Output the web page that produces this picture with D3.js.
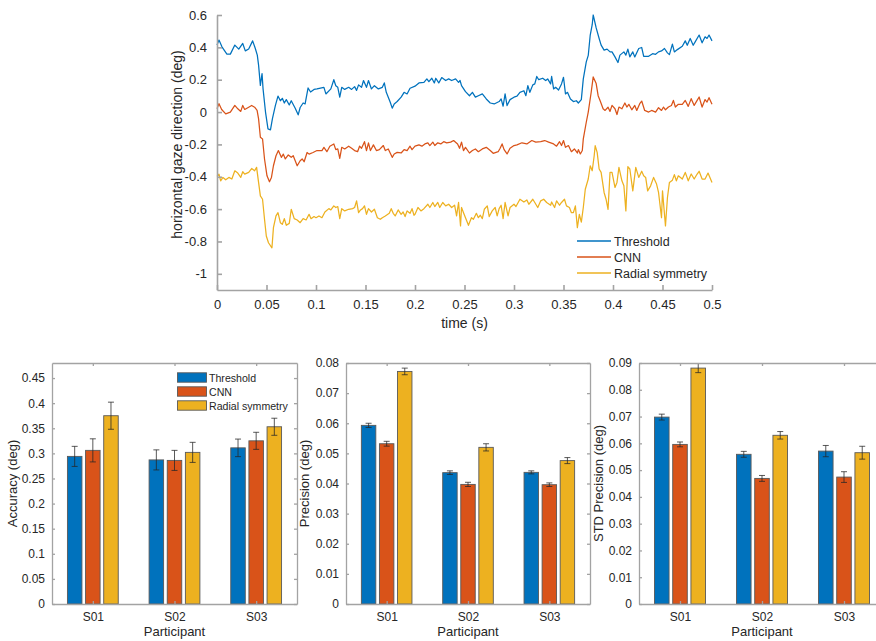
<!DOCTYPE html>
<html><head><meta charset="utf-8">
<script src="https://cdn.jsdelivr.net/npm/d3@7"></script>
<style>
html,body{margin:0;padding:0;background:#fff;}
svg{display:block;font-family:"Liberation Sans",Arial,Helvetica,sans-serif;}
</style></head>
<body>
<svg id="chart" width="876" height="641"></svg>
<script>
// ---------------- DATA ----------------
const seriesNames = ["Threshold", "CNN", "Radial symmetry"];
const seriesColors = ["#0072BD", "#D95319", "#EDB120"];

// time series: [time (s), horizontal gaze direction (deg)]
const threshold = [[0,0.414],[0.002,0.445],[0.005,0.403],[0.010,0.358],[0.0135,0.358],[0.018,0.414],[0.022,0.389],[0.026,0.424],[0.0286,0.378],[0.032,0.39],[0.036,0.44],[0.0387,0.393],[0.0407,0.352],[0.042,0.29],[0.0438,0.165],[0.0455,0.238],[0.0465,0.145],[0.049,0.0],[0.0515,-0.104],[0.054,-0.11],[0.056,-0.04],[0.059,0.041],[0.0616,0.099],[0.064,0.07],[0.066,0.085],[0.068,0.056],[0.070,0.077],[0.073,0.044],[0.075,0.07],[0.079,0.024],[0.082,-0.017],[0.084,0.028],[0.087,0.056],[0.089,0.05],[0.092,0.149],[0.0945,0.124],[0.098,0.14],[0.101,0.143],[0.108,0.153],[0.110,0.112],[0.115,0.143],[0.118,0.2],[0.120,0.163],[0.122,0.153],[0.124,0.093],[0.126,0.153],[0.129,0.14],[0.133,0.153],[0.136,0.14],[0.139,0.157],[0.141,0.134],[0.143,0.168],[0.146,0.153],[0.148,0.195],[0.151,0.153],[0.153,0.195],[0.156,0.143],[0.159,0.163],[0.163,0.143],[0.167,0.153],[0.169,0.18],[0.171,0.122],[0.175,0.061],[0.177,0.024],[0.179,0.05],[0.182,0.065],[0.186,0.092],[0.189,0.122],[0.192,0.112],[0.195,0.147],[0.2,0.16],[0.204,0.18],[0.209,0.184],[0.212,0.205],[0.214,0.188],[0.217,0.209],[0.2195,0.18],[0.221,0.209],[0.224,0.18],[0.227,0.213],[0.231,0.195],[0.234,0.205],[0.237,0.195],[0.241,0.205],[0.244,0.184],[0.2455,0.195],[0.247,0.163],[0.251,0.126],[0.255,0.101],[0.258,0.122],[0.261,0.092],[0.264,0.101],[0.268,0.112],[0.272,0.081],[0.276,0.056],[0.280,0.05],[0.285,0.065],[0.287,0.081],[0.289,0.036],[0.291,0.112],[0.293,0.04],[0.296,0.077],[0.3,0.092],[0.303,0.098],[0.306,0.122],[0.310,0.132],[0.312,0.101],[0.314,0.163],[0.316,0.122],[0.319,0.168],[0.321,0.174],[0.323,0.22],[0.325,0.2],[0.329,0.209],[0.332,0.195],[0.334,0.205],[0.337,0.174],[0.338,0.22],[0.34,0.143],[0.342,0.153],[0.345,0.136],[0.348,0.174],[0.35,0.215],[0.352,0.112],[0.354,0.122],[0.357,0.081],[0.360,0.065],[0.363,0.07],[0.365,0.056],[0.368,0.077],[0.370,0.205],[0.373,0.31],[0.375,0.35],[0.377,0.476],[0.379,0.54],[0.380,0.6],[0.383,0.52],[0.386,0.455],[0.388,0.414],[0.391,0.383],[0.394,0.389],[0.397,0.372],[0.399,0.372],[0.402,0.341],[0.405,0.306],[0.407,0.352],[0.411,0.372],[0.413,0.352],[0.415,0.389],[0.417,0.341],[0.42,0.372],[0.422,0.341],[0.426,0.393],[0.429,0.399],[0.431,0.345],[0.436,0.345],[0.44,0.361],[0.443,0.357],[0.446,0.372],[0.449,0.378],[0.452,0.393],[0.455,0.366],[0.457,0.355],[0.46,0.42],[0.462,0.372],[0.465,0.386],[0.47,0.407],[0.473,0.44],[0.475,0.413],[0.478,0.455],[0.481,0.413],[0.483,0.434],[0.487,0.476],[0.49,0.428],[0.493,0.465],[0.495,0.455],[0.497,0.476],[0.5,0.44]];

const cnn = [[0,0.02],[0.002,0.052],[0.0047,0.016],[0.0088,-0.011],[0.0135,0.0],[0.018,0.041],[0.021,0.02],[0.024,0.004],[0.026,0.041],[0.028,0.016],[0.032,0.03],[0.035,0.041],[0.038,0.03],[0.0405,0.01],[0.042,-0.042],[0.0438,-0.156],[0.046,-0.166],[0.048,-0.29],[0.0505,-0.394],[0.053,-0.431],[0.055,-0.404],[0.057,-0.332],[0.0596,-0.27],[0.062,-0.238],[0.065,-0.28],[0.067,-0.26],[0.069,-0.29],[0.072,-0.265],[0.075,-0.28],[0.077,-0.27],[0.079,-0.301],[0.081,-0.332],[0.084,-0.301],[0.086,-0.29],[0.088,-0.307],[0.091,-0.25],[0.093,-0.26],[0.097,-0.25],[0.101,-0.238],[0.106,-0.238],[0.108,-0.218],[0.111,-0.245],[0.114,-0.211],[0.118,-0.197],[0.120,-0.232],[0.122,-0.228],[0.124,-0.286],[0.126,-0.218],[0.129,-0.228],[0.133,-0.211],[0.136,-0.224],[0.139,-0.238],[0.142,-0.245],[0.144,-0.211],[0.146,-0.224],[0.149,-0.183],[0.151,-0.238],[0.153,-0.19],[0.155,-0.238],[0.158,-0.203],[0.161,-0.238],[0.164,-0.232],[0.168,-0.207],[0.170,-0.238],[0.173,-0.228],[0.177,-0.28],[0.179,-0.259],[0.182,-0.249],[0.186,-0.253],[0.189,-0.232],[0.192,-0.238],[0.195,-0.211],[0.197,-0.232],[0.2,-0.211],[0.204,-0.203],[0.207,-0.211],[0.210,-0.197],[0.213,-0.19],[0.215,-0.207],[0.218,-0.186],[0.220,-0.207],[0.223,-0.19],[0.226,-0.197],[0.229,-0.183],[0.232,-0.19],[0.236,-0.186],[0.239,-0.176],[0.243,-0.197],[0.245,-0.224],[0.247,-0.186],[0.249,-0.238],[0.251,-0.218],[0.255,-0.253],[0.258,-0.238],[0.261,-0.228],[0.264,-0.245],[0.268,-0.228],[0.272,-0.218],[0.276,-0.238],[0.279,-0.255],[0.284,-0.245],[0.286,-0.224],[0.288,-0.197],[0.29,-0.232],[0.293,-0.259],[0.296,-0.224],[0.3,-0.207],[0.303,-0.203],[0.308,-0.19],[0.313,-0.197],[0.318,-0.176],[0.322,-0.186],[0.327,-0.183],[0.331,-0.176],[0.335,-0.186],[0.340,-0.197],[0.343,-0.211],[0.346,-0.183],[0.348,-0.207],[0.35,-0.176],[0.352,-0.218],[0.355,-0.207],[0.358,-0.245],[0.361,-0.228],[0.364,-0.253],[0.365,-0.232],[0.367,-0.259],[0.369,-0.238],[0.370,-0.166],[0.373,-0.063],[0.375,0.0],[0.378,0.124],[0.380,0.217],[0.383,0.176],[0.385,0.101],[0.387,0.07],[0.390,0.02],[0.392,0.01],[0.395,0.03],[0.397,0.004],[0.399,0.041],[0.402,0.0205],[0.404,-0.015],[0.406,0.031],[0.409,0.02],[0.412,0.056],[0.414,0.031],[0.416,0.048],[0.419,0.014],[0.422,0.041],[0.424,0.01],[0.427,0.052],[0.429,0.068],[0.432,0.01],[0.436,0.0],[0.439,0.01],[0.443,0.0],[0.446,0.027],[0.449,0.01],[0.451,0.031],[0.453,0.014],[0.456,0.031],[0.459,0.041],[0.461,0.072],[0.463,0.031],[0.466,0.048],[0.47,0.048],[0.473,0.072],[0.476,0.035],[0.479,0.083],[0.482,0.041],[0.485,0.072],[0.487,0.093],[0.49,0.031],[0.493,0.077],[0.495,0.062],[0.497,0.089],[0.5,0.048]];

const radial = [[0,-0.398],[0.002,-0.384],[0.0037,-0.425],[0.006,-0.404],[0.0088,-0.419],[0.012,-0.404],[0.015,-0.414],[0.018,-0.363],[0.021,-0.377],[0.024,-0.404],[0.026,-0.369],[0.028,-0.384],[0.032,-0.373],[0.035,-0.349],[0.038,-0.363],[0.040,-0.342],[0.042,-0.435],[0.0438,-0.518],[0.046,-0.539],[0.048,-0.663],[0.0498,-0.766],[0.052,-0.808],[0.0555,-0.839],[0.057,-0.715],[0.0596,-0.642],[0.0616,-0.622],[0.064,-0.684],[0.066,-0.694],[0.068,-0.659],[0.070,-0.7],[0.073,-0.688],[0.075,-0.601],[0.078,-0.659],[0.081,-0.667],[0.084,-0.684],[0.087,-0.659],[0.090,-0.667],[0.093,-0.632],[0.095,-0.659],[0.098,-0.646],[0.1,-0.653],[0.103,-0.642],[0.106,-0.653],[0.109,-0.618],[0.113,-0.597],[0.115,-0.605],[0.118,-0.58],[0.120,-0.59],[0.122,-0.584],[0.124,-0.659],[0.126,-0.597],[0.129,-0.611],[0.133,-0.601],[0.137,-0.597],[0.139,-0.59],[0.141,-0.549],[0.143,-0.622],[0.145,-0.605],[0.147,-0.597],[0.149,-0.58],[0.151,-0.632],[0.153,-0.597],[0.156,-0.618],[0.159,-0.601],[0.162,-0.653],[0.165,-0.663],[0.167,-0.653],[0.170,-0.642],[0.174,-0.626],[0.176,-0.597],[0.178,-0.626],[0.180,-0.642],[0.183,-0.605],[0.186,-0.632],[0.188,-0.618],[0.190,-0.646],[0.192,-0.611],[0.195,-0.626],[0.197,-0.597],[0.199,-0.638],[0.2,-0.632],[0.203,-0.59],[0.206,-0.611],[0.209,-0.597],[0.213,-0.57],[0.215,-0.59],[0.218,-0.559],[0.220,-0.584],[0.223,-0.559],[0.225,-0.59],[0.228,-0.559],[0.231,-0.58],[0.234,-0.57],[0.237,-0.59],[0.240,-0.576],[0.242,-0.642],[0.244,-0.559],[0.246,-0.704],[0.247,-0.59],[0.249,-0.622],[0.251,-0.653],[0.254,-0.7],[0.257,-0.653],[0.259,-0.663],[0.262,-0.626],[0.264,-0.653],[0.266,-0.638],[0.268,-0.659],[0.270,-0.601],[0.273,-0.58],[0.275,-0.646],[0.278,-0.611],[0.281,-0.59],[0.283,-0.642],[0.285,-0.597],[0.287,-0.576],[0.289,-0.659],[0.291,-0.559],[0.294,-0.642],[0.296,-0.59],[0.3,-0.57],[0.302,-0.584],[0.306,-0.539],[0.310,-0.556],[0.313,-0.543],[0.315,-0.57],[0.319,-0.539],[0.321,-0.559],[0.324,-0.59],[0.327,-0.549],[0.330,-0.539],[0.333,-0.559],[0.337,-0.576],[0.338,-0.556],[0.341,-0.59],[0.343,-0.549],[0.346,-0.576],[0.348,-0.559],[0.351,-0.539],[0.353,-0.58],[0.356,-0.59],[0.358,-0.622],[0.36,-0.622],[0.362,-0.58],[0.364,-0.715],[0.366,-0.632],[0.368,-0.68],[0.370,-0.59],[0.372,-0.477],[0.375,-0.414],[0.377,-0.332],[0.379,-0.363],[0.381,-0.27],[0.382,-0.208],[0.384,-0.249],[0.386,-0.352],[0.388,-0.373],[0.391,-0.497],[0.393,-0.539],[0.395,-0.601],[0.397,-0.373],[0.399,-0.373],[0.402,-0.466],[0.404,-0.435],[0.406,-0.342],[0.409,-0.425],[0.411,-0.456],[0.413,-0.611],[0.415,-0.338],[0.417,-0.352],[0.42,-0.487],[0.423,-0.342],[0.426,-0.404],[0.429,-0.366],[0.431,-0.394],[0.433,-0.404],[0.435,-0.487],[0.438,-0.456],[0.441,-0.404],[0.444,-0.445],[0.446,-0.497],[0.449,-0.653],[0.450,-0.487],[0.453,-0.704],[0.455,-0.528],[0.457,-0.435],[0.46,-0.421],[0.462,-0.387],[0.464,-0.425],[0.466,-0.394],[0.47,-0.414],[0.473,-0.373],[0.476,-0.425],[0.479,-0.383],[0.482,-0.414],[0.485,-0.383],[0.487,-0.366],[0.49,-0.414],[0.493,-0.414],[0.496,-0.377],[0.5,-0.435]];

const timeTicks = [0,0.05,0.1,0.15,0.2,0.25,0.3,0.35,0.4,0.45,0.5];
const gazeTicks = [-1,-0.8,-0.6,-0.4,-0.2,0,0.2,0.4,0.6];

// bar charts
const participants = ["S01", "S02", "S03"];
const accThreshold = [0.294, 0.287, 0.311];
const accCNN       = [0.306, 0.286, 0.325];
const accRadial    = [0.375, 0.302, 0.353];
const accErrThreshold = [0.020, 0.020, 0.0175];
const accErrCNN       = [0.023, 0.020, 0.017];
const accErrRadial    = [0.027, 0.020, 0.017];
const accTicks = [0,0.05,0.1,0.15,0.2,0.25,0.3,0.35,0.4,0.45];

const precThreshold = [0.0593, 0.0436, 0.0437];
const precCNN       = [0.0532, 0.0397, 0.0396];
const precRadial    = [0.0772, 0.0520, 0.0476];
const precErrThreshold = [0.0007, 0.0006, 0.0005];
const precErrCNN       = [0.0008, 0.0007, 0.0006];
const precErrRadial    = [0.0011, 0.0012, 0.0010];
const precTicks = [0,0.01,0.02,0.03,0.04,0.05,0.06,0.07,0.08];

const stdThreshold = [0.0698, 0.0559, 0.0571];
const stdCNN       = [0.0596, 0.0469, 0.0474];
const stdRadial    = [0.0881, 0.0630, 0.0565];
const stdErrThreshold = [0.0011, 0.0011, 0.0021];
const stdErrCNN       = [0.0009, 0.0011, 0.0020];
const stdErrRadial    = [0.0017, 0.0014, 0.0024];
const stdTicks = [0,0.01,0.02,0.03,0.04,0.05,0.06,0.07,0.08,0.09];

// ---------------- DRAWING ----------------
const svg = d3.select("#chart");
const TEXT = "#262626";
const AXIS = "#a3a3a3";
const fmt = d => String(+(+d).toFixed(3));

function styleAxis(g, fs, sw) {
  g.selectAll("path.domain").attr("stroke", AXIS).attr("stroke-width", sw);
  g.selectAll(".tick line").attr("stroke", AXIS).attr("stroke-width", sw);
  g.selectAll(".tick text").attr("fill", TEXT).attr("font-size", fs)
    .attr("font-family", "Liberation Sans, Arial, sans-serif");
}

// ---- Top line chart ----
(function () {
  const L = 217, R = 712, T = 15, B = 290;
  const x = d3.scaleLinear().domain([0, 0.5]).range([L, R]);
  const y = d3.scaleLinear().domain([-1.1, 0.6]).range([B, T]);
  const g = svg.append("g");

  const line = d3.line().x(d => x(d[0])).y(d => y(d[1]));
  [threshold, cnn, radial].forEach((s, i) => {
    g.append("path").datum(s).attr("d", line)
      .attr("fill", "none").attr("stroke", seriesColors[i])
      .attr("stroke-width", 1.25).attr("stroke-linejoin", "round");
  });

  const ax = g.append("g").attr("transform", `translate(0,${B})`)
    .call(d3.axisBottom(x).tickValues(timeTicks).tickFormat(fmt).tickSizeInner(-5).tickSizeOuter(0).tickPadding(10));
  styleAxis(ax, 13, 1.6);
  const ay = g.append("g").attr("transform", `translate(${L},0)`)
    .call(d3.axisLeft(y).tickValues(gazeTicks).tickFormat(fmt).tickSizeInner(-5).tickSizeOuter(0).tickPadding(10));
  styleAxis(ay, 13, 1.6);

  g.append("text").attr("x", (L + R) / 2).attr("y", 328).attr("text-anchor", "middle")
    .attr("fill", TEXT).attr("font-size", 14).text("time (s)");
  g.append("text").attr("transform", `translate(182,${(T + B) / 2 - 8}) rotate(-90)`)
    .attr("text-anchor", "middle").attr("fill", TEXT).attr("font-size", 14)
    .text("horizontal gaze direction (deg)");

  // legend
  const lg = g.append("g");
  seriesNames.forEach((n, i) => {
    const yy = 241 + i * 16;
    lg.append("line").attr("x1", 577).attr("x2", 611).attr("y1", yy).attr("y2", yy)
      .attr("stroke", seriesColors[i]).attr("stroke-width", 1.3);
    lg.append("text").attr("x", 614).attr("y", yy + 4.5).attr("fill", TEXT)
      .attr("font-size", 12.5).text(n);
  });
})();

// ---- Bar charts ----
function barChart(cfg) {
  const { L, R, T, B, yMax, ticks, label, vals, errs, legend, labelX } = cfg;
  const g = svg.append("g");
  const x = d3.scaleLinear().domain([0.5, 3.5]).range([L, R]);
  const y = d3.scaleLinear().domain([0, yMax]).range([B, T]);
  const groupOffset = 0.2222, barW = 0.8 * 0.2222;

  // bars
  vals.forEach((arr, si) => {
    arr.forEach((v, ci) => {
      const cx = x(ci + 1 + (si - 1) * groupOffset);
      const w = x(barW) - x(0);
      g.append("rect").attr("x", cx - w / 2).attr("y", y(v))
        .attr("width", w).attr("height", y(0) - y(v))
        .attr("fill", seriesColors[si]).attr("stroke", "#595959").attr("stroke-width", 0.9);
    });
  });
  // error bars
  vals.forEach((arr, si) => {
    arr.forEach((v, ci) => {
      const cx = x(ci + 1 + (si - 1) * groupOffset);
      const e = errs[si][ci];
      const eg = g.append("g").attr("stroke", "#262626").attr("stroke-width", 0.9).attr("stroke-opacity", 0.85);
      eg.append("line").attr("x1", cx).attr("x2", cx).attr("y1", y(v - e)).attr("y2", y(v + e));
      eg.append("line").attr("x1", cx - 3).attr("x2", cx + 3).attr("y1", y(v - e)).attr("y2", y(v - e));
      eg.append("line").attr("x1", cx - 3).attr("x2", cx + 3).attr("y1", y(v + e)).attr("y2", y(v + e));
    });
  });

  // axes (box on, ticks inward)
  const ab = g.append("g").attr("transform", `translate(0,${B})`)
    .call(d3.axisBottom(x).tickValues([1, 2, 3]).tickFormat((d, i) => participants[i])
      .tickSizeInner(-3).tickSizeOuter(0).tickPadding(8));
  styleAxis(ab, 12, 1.3);
  const at = g.append("g").attr("transform", `translate(0,${T})`)
    .call(d3.axisTop(x).tickValues([1, 2, 3]).tickFormat("").tickSizeInner(-3).tickSizeOuter(0));
  styleAxis(at, 12, 1.3);
  const al = g.append("g").attr("transform", `translate(${L},0)`)
    .call(d3.axisLeft(y).tickValues(ticks).tickFormat(fmt).tickSizeInner(-3).tickSizeOuter(0).tickPadding(7));
  styleAxis(al, 12, 1.3);
  const ar = g.append("g").attr("transform", `translate(${R},0)`)
    .call(d3.axisRight(y).tickValues(ticks).tickFormat("").tickSizeInner(-3).tickSizeOuter(0));
  styleAxis(ar, 12, 1.3);

  g.append("text").attr("x", x(2)).attr("y", 636).attr("text-anchor", "middle")
    .attr("fill", TEXT).attr("font-size", 13).text("Participant");
  g.append("text").attr("transform", `translate(${labelX},${(T + B) / 2}) rotate(-90)`)
    .attr("text-anchor", "middle").attr("fill", TEXT).attr("font-size", 13).text(label);

  if (legend) {
    seriesNames.forEach((n, i) => {
      const yy = 377.5 + i * 14;
      g.append("rect").attr("x", 177.5).attr("y", yy - 4.7).attr("width", 29).attr("height", 9.4)
        .attr("fill", seriesColors[i]).attr("stroke", "#595959").attr("stroke-width", 0.9);
      g.append("text").attr("x", 209).attr("y", yy + 4).attr("fill", TEXT)
        .attr("font-size", 10.6).text(n);
    });
  }
}

barChart({ L: 52, R: 297, T: 363, B: 604, yMax: 0.48, ticks: accTicks, label: "Accuracy (deg)",
  vals: [accThreshold, accCNN, accRadial], errs: [accErrThreshold, accErrCNN, accErrRadial], legend: true, labelX: 17 });
barChart({ L: 346, R: 590, T: 363, B: 604, yMax: 0.08, ticks: precTicks, label: "Precision (deg)",
  vals: [precThreshold, precCNN, precRadial], errs: [precErrThreshold, precErrCNN, precErrRadial], legend: false, labelX: 309 });
barChart({ L: 639, R: 885, T: 363, B: 604, yMax: 0.09, ticks: stdTicks, label: "STD Precision (deg)",
  vals: [stdThreshold, stdCNN, stdRadial], errs: [stdErrThreshold, stdErrCNN, stdErrRadial], legend: false, labelX: 603 });
</script>
</body></html>
